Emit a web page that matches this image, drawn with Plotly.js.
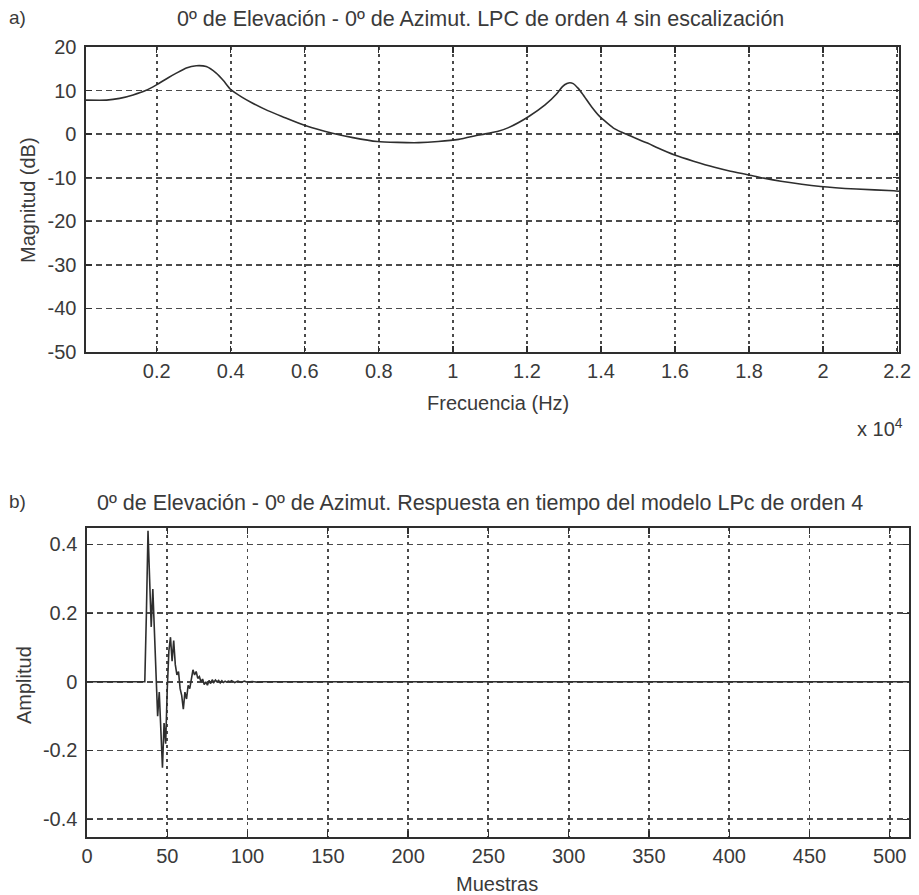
<!DOCTYPE html>
<html>
<head>
<meta charset="utf-8">
<script src="https://cdn.plot.ly/plotly-3.0.1.min.js"></script>
<style>html,body{margin:0;padding:0;background:#fff;}#chart{width:919px;height:895px;}</style>
</head>
<body>
<div id="chart"></div>
<script>
// ---- Data: a) magnitude response (Hz, dB) ----
var freqHz = [90, 646, 1000, 1362, 1700, 1992, 2300, 2530, 2800, 3068, 3338, 3607, 3800, 3992, 4300, 4593, 5000, 5400, 6030, 6746, 7300, 7958, 8500, 9080, 9600, 10157, 10700, 11200, 11502, 12040, 12490, 12800, 12960, 13080, 13163, 13250, 13386, 13520, 13745, 13950, 14374, 14733, 15270, 15540, 15990, 16500, 17066, 17500, 17960, 18400, 18860, 19935, 20900, 21910, 22050];
var magDb  = [7.8, 7.8, 8.2, 9.0, 10.0, 11.3, 12.9, 14.0, 15.2, 15.7, 15.5, 14.0, 12.3, 10.3, 8.5, 7.1, 5.4, 4.0, 1.9, 0.2, -0.8, -1.7, -1.9, -1.95, -1.7, -1.2, -0.2, 0.6, 1.5, 4.0, 6.7, 9.2, 10.9, 11.6, 11.8, 11.6, 10.5, 9.0, 6.3, 4.2, 1.2, -0.2, -2.1, -3.2, -4.8, -6.2, -7.6, -8.5, -9.3, -10.1, -10.8, -12.0, -12.6, -13.0, -13.1];
var freqTickVals = [2000, 4000, 6000, 8000, 10000, 12000, 14000, 16000, 18000, 20000, 22000];
var freqTickText = ["0.2", "0.4", "0.6", "0.8", "1", "1.2", "1.4", "1.6", "1.8", "2", "2.2"];
var magTickVals = [-50, -40, -30, -20, -10, 0, 10, 20];
var magTickText = ["-50", "-40", "-30", "-20", "-10", "0", "10", "20"];

// ---- Data: b) impulse response (sample, amplitude) ----
var sampleIdx = [0, 36, 37, 38, 39, 40, 41, 42, 43, 44, 45, 46, 47, 48, 49, 50, 51, 52, 53, 54, 55, 56, 57, 58, 59, 60, 61, 62, 63, 64, 65, 66, 67, 68, 69, 70, 71, 72, 73, 74, 75, 76, 77, 78, 79, 80, 81, 82, 83, 84, 85, 86, 87, 88, 89, 90, 92, 94, 96, 98, 100, 103, 106, 110, 512];
var amplitude = [0, 0, 0.20, 0.44, 0.30, 0.16, 0.27, 0.14, 0.06, -0.10, -0.03, -0.15, -0.25, -0.12, -0.18, -0.02, 0.09, 0.13, 0.06, 0.12, 0.05, 0.02, 0.03, -0.02, -0.04, -0.08, -0.03, -0.05, -0.01, -0.02, 0.01, 0.035, 0.02, 0.03, 0.01, 0.015, 0.0, 0.008, -0.008, 0.0, -0.01, 0.004, -0.005, 0.006, -0.002, 0.005, 0.0, 0.004, -0.003, 0.003, -0.002, 0.002, -0.001, 0.002, 0, 0.003, -0.002, 0.002, -0.002, 0.002, -0.001, 0.001, -0.001, 0, 0];
var sampleTickVals = [0, 50, 100, 150, 200, 250, 300, 350, 400, 450, 500];
var ampTickVals = [-0.4, -0.2, 0, 0.2, 0.4];
var ampTickText = ["-0.4", "-0.2", "0", "0.2", "0.4"];

var W = 919, H = 895;
function px(x){ return x / W; }
function py(y){ return 1 - y / H; }

var TXT = '#3a3a3a';
var LINE = '#2e2e2e';
var FONT = 'Liberation Sans, Arial, sans-serif';
var FS = 20;

function axisBase(extra){
  var a = {
    showline: true, mirror: 'allticks', linecolor: LINE, linewidth: 1.6,
    ticks: 'inside', ticklen: 6, tickwidth: 1.3, tickcolor: LINE,
    showgrid: true, gridcolor: '#4a4a4a', gridwidth: 1.8,
    zeroline: false, tickfont: {family: FONT, size: FS, color: TXT},
    fixedrange: true
  };
  for (var k in extra) a[k] = extra[k];
  return a;
}

var traces = [
  {x: freqHz, y: magDb, type: 'scatter', mode: 'lines', line: {color: LINE, width: 1.6, shape: 'spline', smoothing: 0.6}, xaxis: 'x', yaxis: 'y', hoverinfo: 'skip'},
  {x: sampleIdx, y: amplitude, type: 'scatter', mode: 'lines', line: {color: LINE, width: 1.6}, xaxis: 'x2', yaxis: 'y2', hoverinfo: 'skip'}
];

function ann(text, x, y, size, extra){
  var a = {text: text, x: px(x), y: py(y), xanchor: 'center', yanchor: 'middle', xref: 'paper', yref: 'paper', showarrow: false, font: {family: FONT, size: size, color: TXT}};
  for (var k in extra) a[k] = extra[k];
  return a;
}

var layout = {
  width: W, height: H,
  margin: {l: 0, r: 0, t: 0, b: 0},
  paper_bgcolor: '#fff', plot_bgcolor: '#fff',
  showlegend: false,
  font: {family: FONT, color: TXT},
  xaxis: axisBase({domain: [px(86), px(899)], range: [90, 22050], tickvals: freqTickVals, ticktext: freqTickText, griddash: '3px,4px', anchor: 'y'}),
  yaxis: axisBase({domain: [py(352), py(47)], range: [-50, 20], tickvals: magTickVals, ticktext: magTickText, griddash: '6px,4px', anchor: 'x', ticklabelstandoff: 4}),
  xaxis2: axisBase({domain: [px(87), px(909)], range: [0, 512], tickvals: sampleTickVals, griddash: '3px,4px', anchor: 'y2'}),
  yaxis2: axisBase({domain: [py(837), py(528)], range: [-0.452, 0.448], tickvals: ampTickVals, ticktext: ampTickText, griddash: '6px,4px', anchor: 'x2', ticklabelstandoff: 4}),
  annotations: [
    ann('a)', 7, 18, 19, {xanchor: 'left'}),
    ann('0º de Elevación - 0º de Azimut. LPC de orden 4 sin escalización', 480, 19, 21.5),
    ann('Frecuencia (Hz)', 498, 403, FS),
    ann('x 10<sup>4</sup>', 880, 427, FS),
    ann('Magnitud (dB)', 28, 200, FS, {textangle: -90}),
    ann('b)', 7, 502, 19, {xanchor: 'left'}),
    ann('0º de Elevación - 0º de Azimut. Respuesta en tiempo del modelo LPc de orden 4', 480, 503, 21.5),
    ann('Amplitud', 24, 685, FS, {textangle: -90}),
    ann('Muestras', 497, 884, FS)
  ]
};

Plotly.newPlot('chart', traces, layout, {staticPlot: true, displayModeBar: false});
</script>
</body>
</html>
